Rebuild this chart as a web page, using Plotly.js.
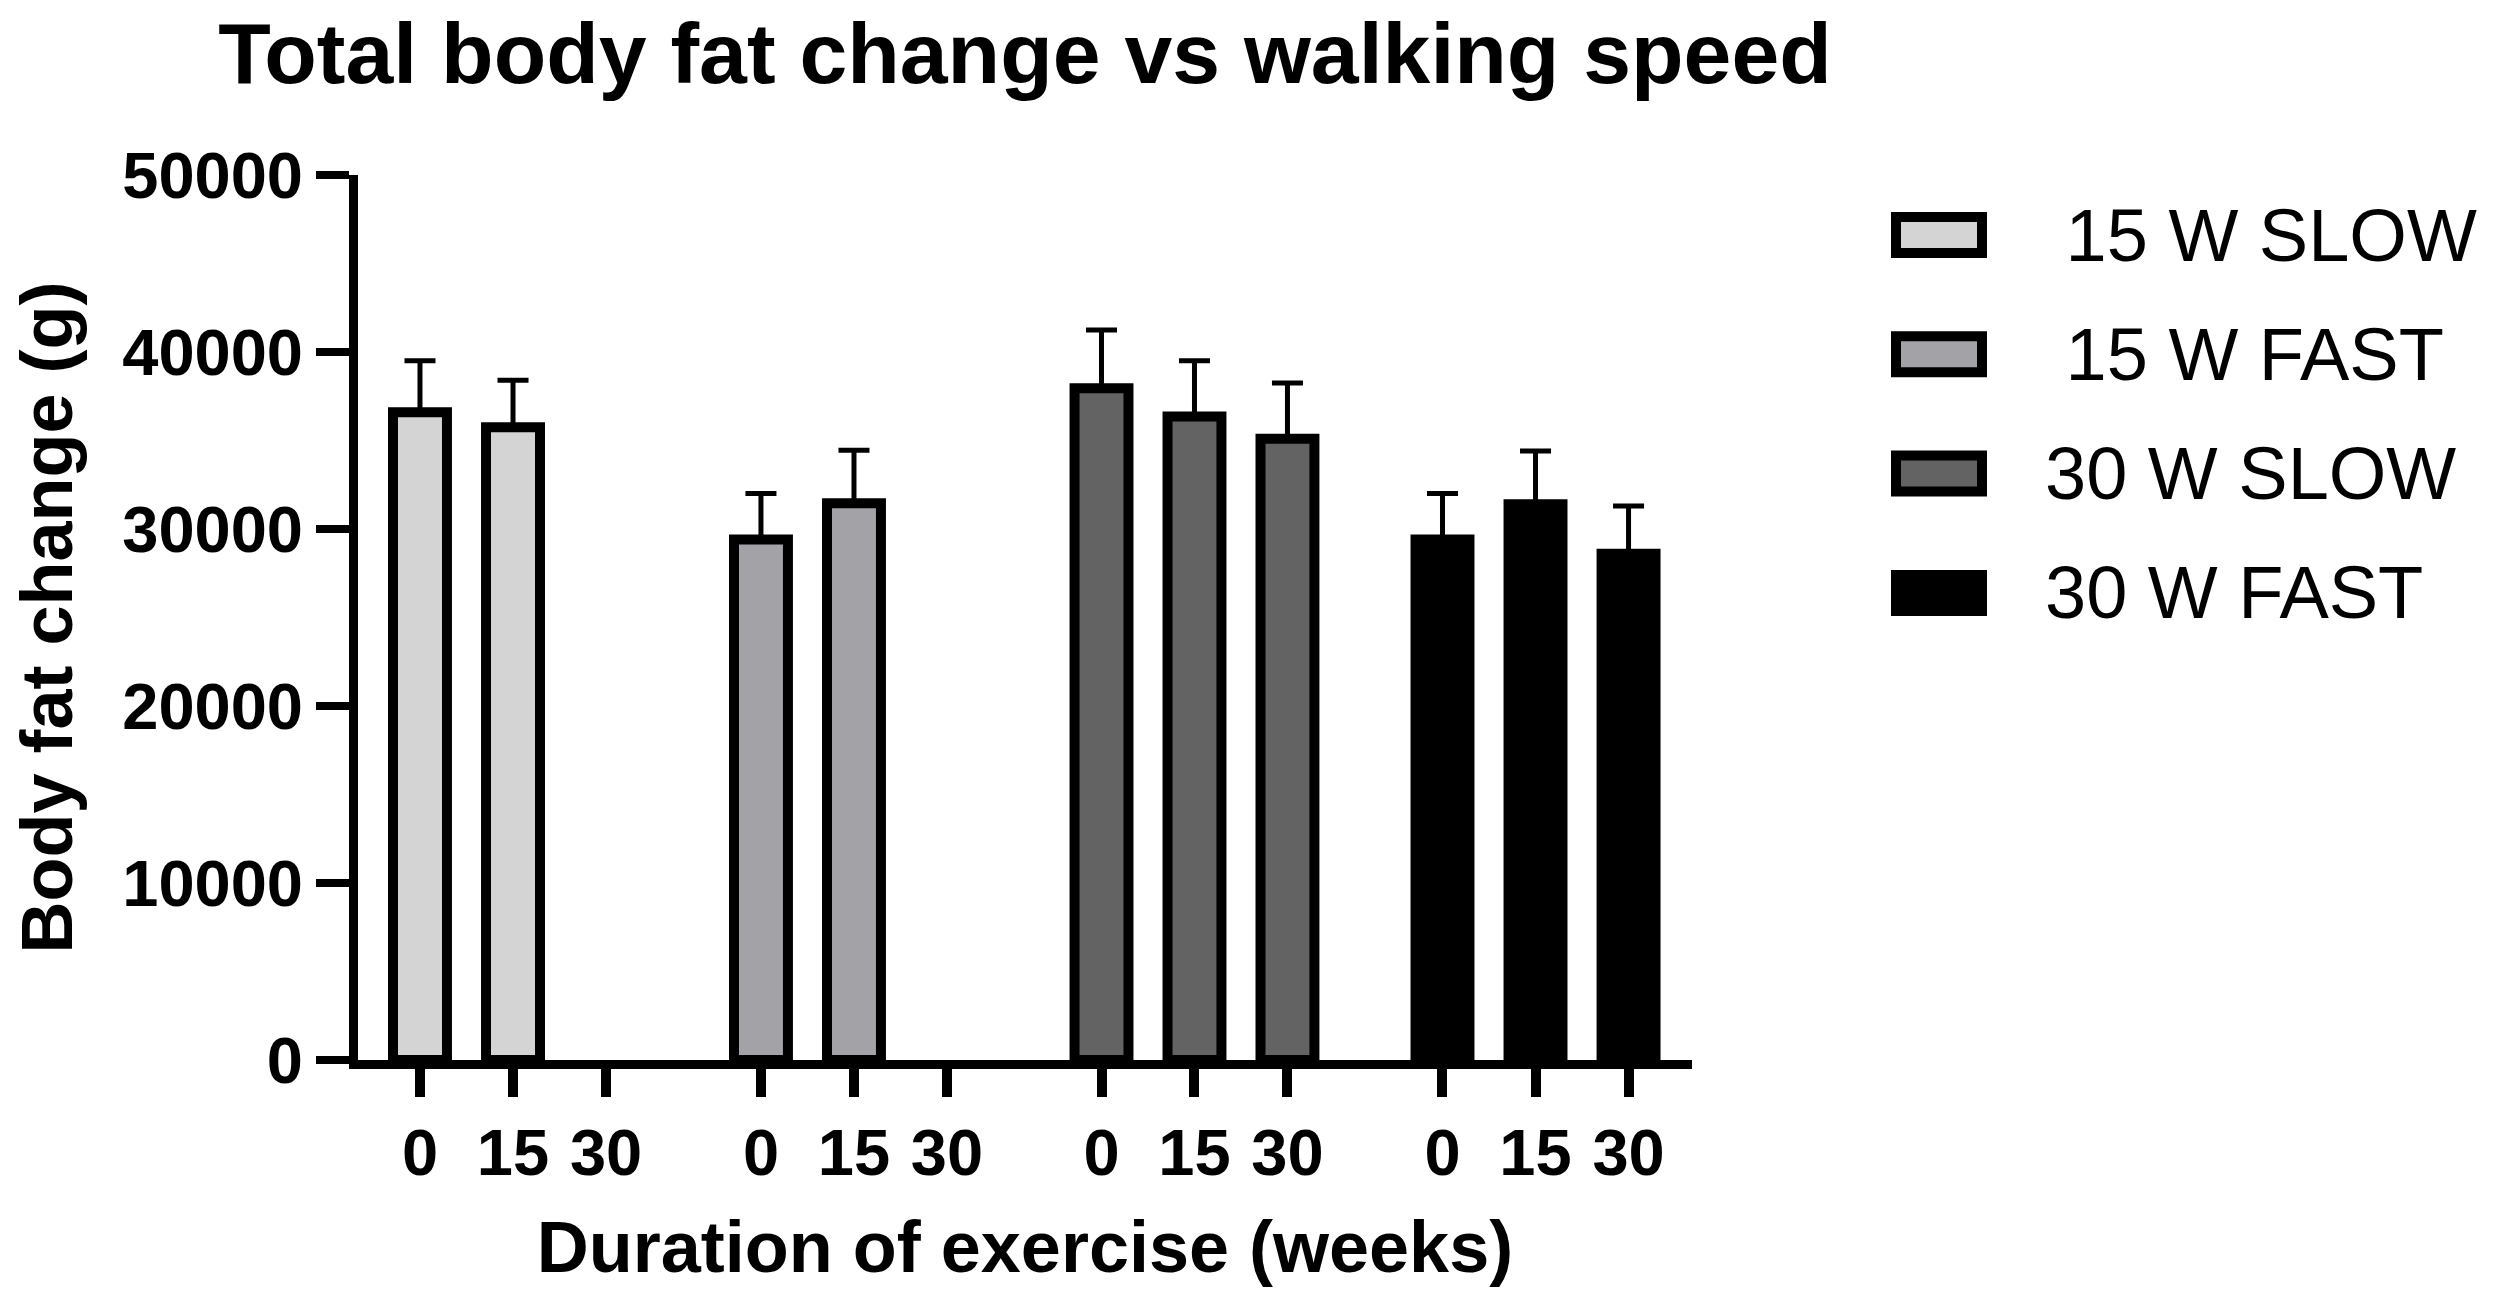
<!DOCTYPE html>
<html>
<head>
<meta charset="utf-8">
<script src="https://cdn.plot.ly/plotly-3.0.1.min.js"></script>
<style>
  html, body { margin: 0; padding: 0; background: #ffffff; }
  #chart { width: 2500px; height: 1311px; }
</style>
</head>
<body>
<div id="chart"></div>
<script>
// ---- data ----
const weeks = ['0', '15', '30'];
const seriesNames = ['\u00a015 W SLOW', '\u00a015 W FAST', '30 W SLOW', '30 W FAST'];
const slow15 = [36600, 35750, null];
const slow15Err = [2900, 2650, null];
const fast15 = [29400, 31450, null];
const fast15Err = [2600, 3000, null];
const slow30 = [37950, 36350, 35100];
const slow30Err = [3300, 3150, 3150];
const fast30 = [29400, 31400, 28600];
const fast30Err = [2600, 3000, 2700];
const titleText = 'Total body fat change vs walking speed';
const xTitle = 'Duration of exercise (weeks)';
const yTitle = 'Body fat change (g)';

// ---- styling ----
const FONT = 'Liberation Sans, Arial, sans-serif';
const fills = ['#d4d4d4', '#a3a2a7', '#636363', '#000000'];
const values = [slow15, fast15, slow30, fast30];
const errs = [slow15Err, fast15Err, slow30Err, fast30Err];
const axisIds = ['x2', 'x3', 'x4', 'x5'];
const domains = [[0.0116, 0.2208], [0.2672, 0.4764], [0.5225, 0.7316], [0.7781, 0.9873]];

const traces = [{ type: 'scatter', x: [], y: [], xaxis: 'x', yaxis: 'y', showlegend: false, hoverinfo: 'skip' }];
values.forEach((vals, i) => {
  traces.push({
    type: 'bar',
    name: seriesNames[i],
    x: weeks,
    y: vals,
    xaxis: axisIds[i],
    yaxis: 'y',
    marker: { color: fills[i], line: { color: '#000000', width: 10 } },
    error_y: {
      type: 'data', symmetric: false,
      array: errs[i], arrayminus: errs[i].map(v => (v == null ? null : 0)),
      color: '#000000', thickness: 5, width: 15.5
    },
    showlegend: false
  });
});

const layout = {
  width: 2500, height: 1311,
  margin: { l: 358, r: 808, t: 175, b: 251, pad: 0 },
  paper_bgcolor: '#ffffff', plot_bgcolor: 'rgba(0,0,0,0)',
  font: { family: FONT, color: '#000000' },
  showlegend: false,
  bargap: 0.42,
  title: {
    text: titleText, x: 0.5, xref: 'paper', xanchor: 'center',
    y: 1 - 53 / 1311, yref: 'container', yanchor: 'middle',
    font: { family: FONT, size: 86, weight: 'bold', color: '#000000' }
  },
  xaxis: {
    domain: [0, 1], range: [0, 1], anchor: 'y',
    showline: true, linewidth: 9, linecolor: '#000000',
    ticks: '', showticklabels: false, showgrid: false, zeroline: false, fixedrange: true,
    title: { text: xTitle, standoff: 157, font: { family: FONT, size: 72, weight: 'bold', color: '#000000' } }
  },
  yaxis: {
    domain: [0, 1], range: [0, 50000], anchor: 'x',
    tick0: 0, dtick: 10000, tickformat: 'd',
    showline: true, linewidth: 9, linecolor: '#000000',
    ticks: 'outside', ticklen: 33, tickwidth: 8, tickcolor: '#000000',
    tickfont: { family: FONT, size: 65, weight: 'bold', color: '#000000' },
    showgrid: false, zeroline: false, fixedrange: true,
    title: { text: yTitle, standoff: 30, font: { family: FONT, size: 72, weight: 'bold', color: '#000000' } }
  },
  shapes: [],
  annotations: []
};

axisIds.forEach((id, i) => {
  const key = 'xaxis' + id.slice(1);
  layout[key] = {
    domain: domains[i], anchor: 'y', type: 'category',
    categoryorder: 'array', categoryarray: weeks, range: [-0.5, 2.5],
    showline: false, ticks: 'outside', ticklen: 36, tickwidth: 10, tickcolor: '#000000',
    tickfont: { family: FONT, size: 65, weight: 'bold', color: '#000000' },
    showgrid: false, zeroline: false, fixedrange: true
  };
});

// custom legend (large boxes like the reference)
const plotW = 2500 - 358 - 808, plotH = 1311 - 175 - 251;
seriesNames.forEach((name, i) => {
  const cy = 235 + 119.3 * i;
  layout.shapes.push({
    type: 'rect', xref: 'paper', yref: 'paper',
    x0: (1896 - 358) / plotW, x1: (1982 - 358) / plotW,
    y0: (1060 - (cy + 18)) / plotH, y1: (1060 - (cy - 18)) / plotH,
    fillcolor: fills[i], line: { color: '#000000', width: 10 }
  });
  layout.annotations.push({
    xref: 'paper', yref: 'paper',
    x: (2043 - 358) / plotW, y: (1060 - cy) / plotH,
    xanchor: 'left', yanchor: 'middle', showarrow: false,
    text: name, font: { family: FONT, size: 74, color: '#000000' }
  });
});

Plotly.newPlot('chart', traces, layout, { displayModeBar: false, staticPlot: true });
</script>
</body>
</html>
